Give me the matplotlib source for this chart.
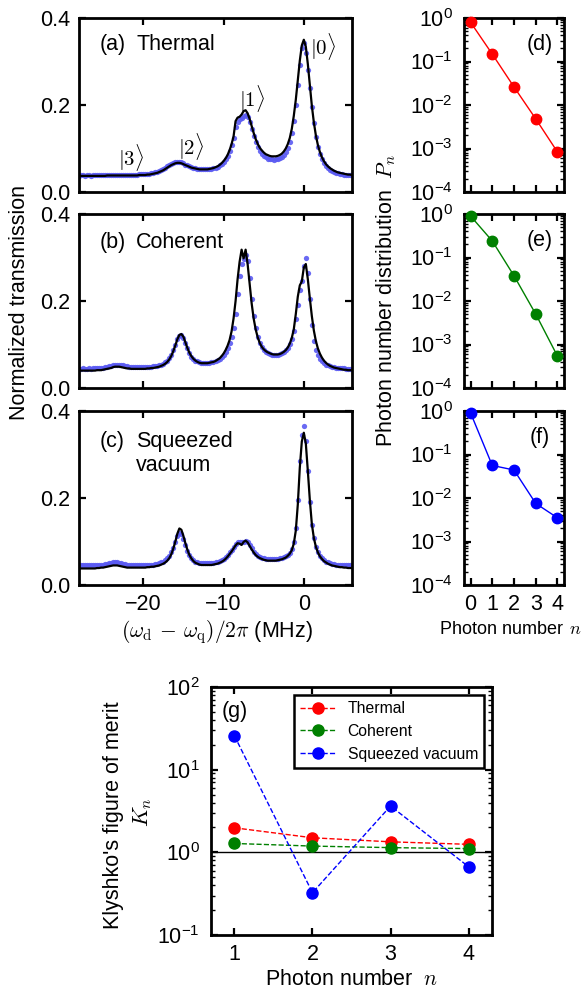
import numpy as np
import matplotlib
matplotlib.use('Agg')
import matplotlib.pyplot as plt
from matplotlib.ticker import LogLocator, NullFormatter

plt.rcParams['font.family'] = ['Liberation Sans', 'DejaVu Sans']
plt.rcParams['mathtext.fontset'] = 'cm'
plt.rcParams['axes.linewidth'] = 2.0
plt.rcParams['xtick.direction'] = 'in'
plt.rcParams['ytick.direction'] = 'in'
plt.rcParams['xtick.top'] = True
plt.rcParams['ytick.right'] = True
plt.rcParams['xtick.major.width'] = 1.6
plt.rcParams['ytick.major.width'] = 1.6
plt.rcParams['xtick.minor.width'] = 1.0
plt.rcParams['ytick.minor.width'] = 1.0
plt.rcParams['xtick.major.size'] = 5
plt.rcParams['ytick.major.size'] = 5
plt.rcParams['xtick.minor.size'] = 2.8
plt.rcParams['ytick.minor.size'] = 2.8
plt.rcParams['xtick.labelsize'] = 15.5
plt.rcParams['ytick.labelsize'] = 15.5
plt.rcParams['xtick.major.pad'] = 6.5
plt.rcParams['ytick.major.pad'] = 6.5

# ---------------- data ----------------
# drive detuning grid (MHz), 0.25 MHz steps from -28 to 6
detuning = np.linspace(-28, 6, 137)

thermal_fit = [
    0.037, 0.037, 0.037, 0.037,  # -28
    0.037, 0.037, 0.037, 0.037,  # -27
    0.037, 0.037, 0.037, 0.037,  # -26
    0.037, 0.037, 0.038, 0.038,  # -25
    0.038, 0.038, 0.038, 0.038,  # -24
    0.038, 0.038, 0.038, 0.038,  # -23
    0.038, 0.038, 0.038, 0.038,  # -22
    0.038, 0.038, 0.039, 0.039,  # -21
    0.039, 0.039, 0.040, 0.040,  # -20
    0.041, 0.042, 0.043, 0.044,  # -19
    0.046, 0.048, 0.050, 0.053,  # -18
    0.056, 0.059, 0.062, 0.064,  # -17
    0.066, 0.067, 0.067, 0.066,  # -16
    0.064, 0.062, 0.060, 0.058,  # -15
    0.056, 0.055, 0.054, 0.053,  # -14
    0.052, 0.052, 0.052, 0.052,  # -13
    0.052, 0.053, 0.054, 0.055,  # -12
    0.057, 0.059, 0.062, 0.066,  # -11
    0.071, 0.077, 0.085, 0.096,  # -10
    0.110, 0.128, 0.163, 0.171,  # -9
    0.173, 0.178, 0.186, 0.188,  # -8
    0.181, 0.168, 0.152, 0.136,  # -7
    0.122, 0.111, 0.102, 0.096,  # -6
    0.091, 0.087, 0.085, 0.083,  # -5
    0.082, 0.082, 0.082, 0.083,  # -4
    0.085, 0.088, 0.093, 0.100,  # -3
    0.110, 0.124, 0.145, 0.175,  # -2
    0.212, 0.256, 0.302, 0.337,  # -1
    0.350, 0.334, 0.294, 0.245,  # 0
    0.198, 0.160, 0.130, 0.108,  # 1
    0.092, 0.080, 0.071, 0.064,  # 2
    0.059, 0.055, 0.052, 0.049,  # 3
    0.047, 0.045, 0.044, 0.043,  # 4
    0.042, 0.041, 0.040, 0.040,  # 5
    0.039,                       # 6
]
thermal_data = [
    0.037, 0.038, 0.038, 0.037,
    0.038, 0.038, 0.037, 0.038,
    0.038, 0.038, 0.039, 0.038,
    0.038, 0.039, 0.039, 0.038,
    0.039, 0.039, 0.040, 0.039,
    0.039, 0.040, 0.040, 0.040,
    0.040, 0.040, 0.040, 0.040,
    0.040, 0.040, 0.041, 0.041,
    0.041, 0.041, 0.042, 0.042,
    0.043, 0.044, 0.045, 0.047,
    0.048, 0.050, 0.053, 0.056,
    0.059, 0.062, 0.065, 0.067,
    0.068, 0.069, 0.069, 0.068,
    0.066, 0.063, 0.061, 0.059,
    0.057, 0.056, 0.055, 0.054,
    0.053, 0.053, 0.052, 0.052,
    0.052, 0.053, 0.054, 0.055,
    0.056, 0.058, 0.061, 0.064,
    0.069, 0.075, 0.083, 0.094,
    0.108, 0.125, 0.150, 0.162,
    0.168, 0.171, 0.175, 0.177,
    0.173, 0.160, 0.144, 0.128,
    0.114, 0.103, 0.094, 0.088,
    0.083, 0.080, 0.077, 0.076,
    0.075, 0.074, 0.075, 0.076,
    0.078, 0.081, 0.086, 0.093,
    0.102, 0.116, 0.136, 0.164,
    0.200, 0.245, 0.292, 0.330,
    0.342, 0.320, 0.280, 0.240,
    0.196, 0.158, 0.127, 0.104,
    0.088, 0.076, 0.067, 0.060,
    0.055, 0.051, 0.048, 0.046,
    0.044, 0.043, 0.042, 0.041,
    0.040, 0.040, 0.039, 0.039,
    0.039,
]
coherent_fit = [
    0.040, 0.040, 0.040, 0.040,  # -28
    0.040, 0.040, 0.040, 0.040,  # -27
    0.040, 0.041, 0.041, 0.041,  # -26
    0.042, 0.043, 0.044, 0.045,  # -25
    0.046, 0.048, 0.049, 0.049,  # -24
    0.049, 0.048, 0.047, 0.046,  # -23
    0.045, 0.045, 0.044, 0.044,  # -22
    0.044, 0.044, 0.044, 0.044,  # -21
    0.044, 0.044, 0.045, 0.045,  # -20
    0.046, 0.046, 0.047, 0.048,  # -19
    0.049, 0.051, 0.053, 0.056,  # -18
    0.060, 0.066, 0.074, 0.085,  # -17
    0.098, 0.112, 0.122, 0.124,  # -16
    0.118, 0.105, 0.092, 0.081,  # -15
    0.073, 0.067, 0.063, 0.060,  # -14
    0.058, 0.057, 0.057, 0.057,  # -13
    0.057, 0.058, 0.059, 0.060,  # -12
    0.062, 0.065, 0.068, 0.073,  # -11
    0.079, 0.087, 0.097, 0.110,  # -10
    0.130, 0.160, 0.200, 0.250,  # -9
    0.290, 0.318, 0.298, 0.318,  # -8
    0.285, 0.240, 0.195, 0.160,  # -7
    0.135, 0.117, 0.104, 0.095,  # -6
    0.089, 0.085, 0.082, 0.080,  # -5
    0.078, 0.077, 0.077, 0.077,  # -4
    0.078, 0.080, 0.083, 0.087,  # -3
    0.093, 0.102, 0.115, 0.135,  # -2
    0.170, 0.210, 0.236, 0.245,  # -1
    0.277, 0.285, 0.250, 0.206,  # 0
    0.165, 0.132, 0.108, 0.091,  # 1
    0.079, 0.070, 0.063, 0.058,  # 2
    0.054, 0.051, 0.049, 0.047,  # 3
    0.046, 0.045, 0.044, 0.043,  # 4
    0.042, 0.042, 0.041, 0.041,  # 5
    0.041,                       # 6
]
coherent_data = [
    0.044, 0.044, 0.045, 0.044,
    0.044, 0.045, 0.044, 0.045,
    0.045, 0.045, 0.046, 0.046,
    0.047, 0.048, 0.049, 0.050,
    0.051, 0.052, 0.053, 0.054,
    0.054, 0.053, 0.052, 0.051,
    0.050, 0.049, 0.049, 0.048,
    0.048, 0.048, 0.049, 0.048,
    0.048, 0.048, 0.049, 0.049,
    0.049, 0.050, 0.050, 0.051,
    0.052, 0.054, 0.056, 0.059,
    0.063, 0.069, 0.077, 0.088,
    0.100, 0.112, 0.120, 0.121,
    0.116, 0.104, 0.091, 0.080,
    0.072, 0.067, 0.063, 0.061,
    0.059, 0.058, 0.057, 0.057,
    0.057, 0.058, 0.059, 0.060,
    0.062, 0.064, 0.067, 0.071,
    0.076, 0.083, 0.092, 0.103,
    0.117, 0.138, 0.170, 0.215,
    0.258, 0.284, 0.296, 0.305,
    0.292, 0.252, 0.205, 0.166,
    0.138, 0.118, 0.104, 0.094,
    0.088, 0.083, 0.080, 0.078,
    0.077, 0.076, 0.076, 0.077,
    0.078, 0.080, 0.083, 0.087,
    0.093, 0.101, 0.113, 0.131,
    0.158, 0.190, 0.225, 0.245,
    0.280, 0.298, 0.265, 0.205,
    0.145, 0.108, 0.087, 0.075,
    0.067, 0.061, 0.057, 0.054,
    0.052, 0.050, 0.049, 0.048,
    0.047, 0.046, 0.046, 0.045,
    0.045, 0.044, 0.044, 0.044,
    0.044,
]
squeezed_fit = [
    0.038, 0.038, 0.038, 0.038,  # -28
    0.038, 0.038, 0.038, 0.038,  # -27
    0.038, 0.039, 0.039, 0.040,  # -26
    0.040, 0.041, 0.042, 0.043,  # -25
    0.044, 0.045, 0.045, 0.045,  # -24
    0.044, 0.043, 0.042, 0.041,  # -23
    0.040, 0.040, 0.040, 0.040,  # -22
    0.040, 0.040, 0.040, 0.040,  # -21
    0.040, 0.040, 0.041, 0.041,  # -20
    0.042, 0.042, 0.043, 0.044,  # -19
    0.045, 0.047, 0.049, 0.052,  # -18
    0.056, 0.062, 0.071, 0.084,  # -17
    0.100, 0.118, 0.130, 0.127,  # -16
    0.113, 0.096, 0.081, 0.069,  # -15
    0.061, 0.055, 0.051, 0.049,  # -14
    0.047, 0.046, 0.046, 0.046,  # -13
    0.046, 0.046, 0.046, 0.047,  # -12
    0.048, 0.049, 0.051, 0.053,  # -11
    0.056, 0.060, 0.065, 0.071,  # -10
    0.077, 0.084, 0.091, 0.096,  # -9
    0.095, 0.092, 0.099, 0.102,  # -8
    0.098, 0.090, 0.082, 0.075,  # -7
    0.069, 0.065, 0.062, 0.060,  # -6
    0.058, 0.057, 0.056, 0.056,  # -5
    0.056, 0.056, 0.056, 0.057,  # -4
    0.058, 0.059, 0.061, 0.063,  # -3
    0.067, 0.072, 0.080, 0.095,  # -2
    0.125, 0.185, 0.270, 0.330,  # -1
    0.350, 0.325, 0.262, 0.195,  # 0
    0.140, 0.108, 0.088, 0.075,  # 1
    0.066, 0.060, 0.055, 0.052,  # 2
    0.049, 0.047, 0.045, 0.044,  # 3
    0.043, 0.042, 0.041, 0.041,  # 4
    0.040, 0.040, 0.039, 0.039,  # 5
    0.039,                       # 6
]
squeezed_data = [
    0.046, 0.045, 0.046, 0.046,
    0.045, 0.046, 0.046, 0.045,
    0.046, 0.046, 0.047, 0.047,
    0.047, 0.048, 0.049, 0.050,
    0.051, 0.052, 0.052, 0.052,
    0.051, 0.050, 0.049, 0.048,
    0.047, 0.047, 0.046, 0.046,
    0.046, 0.046, 0.046, 0.046,
    0.046, 0.046, 0.046, 0.047,
    0.047, 0.047, 0.048, 0.049,
    0.050, 0.052, 0.054, 0.057,
    0.061, 0.067, 0.075, 0.086,
    0.100, 0.113, 0.119, 0.117,
    0.106, 0.092, 0.079, 0.069,
    0.062, 0.057, 0.054, 0.052,
    0.051, 0.050, 0.050, 0.050,
    0.050, 0.050, 0.050, 0.051,
    0.052, 0.053, 0.055, 0.057,
    0.060, 0.064, 0.069, 0.075,
    0.081, 0.088, 0.094, 0.098,
    0.099, 0.098, 0.099, 0.101,
    0.098, 0.091, 0.084, 0.077,
    0.071, 0.067, 0.064, 0.062,
    0.061, 0.060, 0.059, 0.059,
    0.059, 0.059, 0.059, 0.060,
    0.061, 0.062, 0.064, 0.066,
    0.069, 0.074, 0.082, 0.098,
    0.130, 0.195, 0.285, 0.345,
    0.365, 0.330, 0.262, 0.190,
    0.138, 0.108, 0.088, 0.076,
    0.067, 0.061, 0.057, 0.054,
    0.052, 0.050, 0.049, 0.048,
    0.047, 0.047, 0.046, 0.046,
    0.046, 0.046, 0.045, 0.046,
    0.046,
]

photon_n = [0, 1, 2, 3, 4]
P_thermal = [0.80, 0.148, 0.026, 0.0048, 0.00083]
P_coherent = [0.90, 0.24, 0.038, 0.0050, 0.00054]
P_squeezed = [0.91, 0.056, 0.044, 0.0075, 0.0035]

klyshko_n = [1, 2, 3, 4]
K_thermal = [1.98, 1.50, 1.34, 1.25]
K_coherent = [1.28, 1.19, 1.14, 1.11]
K_squeezed = [25.7, 0.325, 3.63, 0.67]

# ---------------- layout ----------------
W, H = 588, 990
fig = plt.figure(figsize=(W / 100, H / 100), dpi=100)

def pos(l, t, r, b):
    return [l / W, 1 - b / H, (r - l) / W, (b - t) / H]

fs = 15.5
dot_color = '#5a5af2'
spectra = [
    (thermal_data, thermal_fit, (79, 18, 352, 192)),
    (coherent_data, coherent_fit, (79, 214, 352, 388)),
    (squeezed_data, squeezed_fit, (79, 411, 352, 585)),
]
left_axes = []
for i, (dat, fit, box) in enumerate(spectra):
    ax = fig.add_axes(pos(*box))
    ax.plot(detuning, dat, 'o', ms=3.8, color=dot_color, mec='none', alpha=0.9, zorder=2)
    ax.plot(detuning, fit, '-', color='black', lw=1.6, zorder=3)
    ax.set_xlim(-28, 6)
    ax.set_ylim(0, 0.4)
    ax.set_yticks([0, 0.2, 0.4])
    ax.set_yticklabels(['0.0', '0.2', '0.4'])
    ax.set_xticks([-20, -10, 0])
    if i < 2:
        ax.set_xticklabels([])
    left_axes.append(ax)

axa, axb, axc = left_axes
axa.text(0.077, 0.845, '(a)', transform=axa.transAxes, fontsize=fs, va='center')
axa.text(0.209, 0.845, 'Thermal', transform=axa.transAxes, fontsize=fs, va='center')
axb.text(0.077, 0.839, '(b)', transform=axb.transAxes, fontsize=fs, va='center')
axb.text(0.209, 0.839, 'Coherent', transform=axb.transAxes, fontsize=fs, va='center')
axc.text(0.077, 0.822, '(c)', transform=axc.transAxes, fontsize=fs, va='center')
axc.text(0.209, 0.822, 'Squeezed', transform=axc.transAxes, fontsize=fs, va='center')
axc.text(0.209, 0.684, 'vacuum', transform=axc.transAxes, fontsize=fs, va='center')

kets = [(2.4, 0.335, r'$|0\rangle$'), (-6.5, 0.215, r'$|1\rangle$'),
        (-14.0, 0.104, r'$|2\rangle$'), (-21.5, 0.079, r'$|3\rangle$')]
for kx, ky, kt in kets:
    axa.text(kx, ky, kt, fontsize=15, ha='center', va='center')

fig.text(20 / W, 1 - 302 / H, 'Normalized transmission', rotation=90,
         ha='center', va='center', fontsize=fs)
fig.text(217 / W, 1 - 632 / H, r'$(\omega_{\rm d}\,-\,\omega_{\rm q})/2\pi$ (MHz)',
         ha='center', va='center', fontsize=fs)

# right panels
dists = [
    (P_thermal, 'red', '(d)', (464, 18, 564, 192)),
    (P_coherent, 'green', '(e)', (464, 214, 564, 388)),
    (P_squeezed, 'blue', '(f)', (464, 411, 564, 585)),
]
for i, (P, col, lab, box) in enumerate(dists):
    ax = fig.add_axes(pos(*box))
    ax.plot(photon_n, P, '-o', color=col, lw=1.0, ms=7.5, clip_on=False, zorder=3)
    ax.set_yscale('log')
    ax.set_ylim(1e-4, 1)
    ax.set_xlim(-0.3, 4.3)
    ax.set_xticks(photon_n)
    ax.yaxis.set_major_locator(LogLocator(base=10, numticks=10))
    ax.yaxis.set_minor_locator(LogLocator(base=10, subs=np.arange(2, 10), numticks=20))
    ax.yaxis.set_minor_formatter(NullFormatter())
    ax.tick_params(axis='y', which='major', pad=8)
    if i < 2:
        ax.set_xticklabels([])
    ax.text(0.76, 0.845, lab, transform=ax.transAxes, fontsize=fs, ha='center', va='center')

fig.text(386 / W, 1 - 300 / H, r'Photon number distribution  $P_n$', rotation=90,
         ha='center', va='center', fontsize=fs)
fig.text(511 / W, 1 - 630 / H, r'Photon number $\,n$', ha='center', va='center', fontsize=13)

# Klyshko panel
axg = fig.add_axes(pos(211, 687, 492, 935))
axg.axhline(1.0, color='black', lw=1.0, zorder=1)
axg.plot(klyshko_n, K_thermal, '--o', color='red', lw=1.0, ms=8, label='Thermal', zorder=3)
axg.plot(klyshko_n, K_coherent, '--o', color='green', lw=1.0, ms=8, label='Coherent', zorder=3)
axg.plot(klyshko_n, K_squeezed, '--o', color='blue', lw=1.0, ms=8, label='Squeezed vacuum', zorder=3)
axg.set_yscale('log')
axg.set_ylim(0.1, 100)
axg.set_xlim(0.7, 4.3)
axg.set_xticks(klyshko_n)
axg.yaxis.set_minor_locator(LogLocator(base=10, subs=np.arange(2, 10), numticks=20))
axg.yaxis.set_minor_formatter(NullFormatter())
axg.tick_params(axis='y', which='major', pad=8)
axg.text(1.0, 0.90, '(g)', transform=axg.get_xaxis_transform(), fontsize=fs, ha='center', va='center')
leg = axg.legend(loc='upper right', fontsize=11.3, fancybox=False, framealpha=1,
                 edgecolor='black', handlelength=2.2, borderaxespad=0.5)
leg.get_frame().set_linewidth(1.8)
axg.set_xlabel(r'Photon number  $n$', fontsize=fs, labelpad=3)
fig.text(113 / W, 1 - 815 / H, "Klyshko's figure of merit", rotation=90,
         ha='center', va='center', fontsize=fs)
fig.text(143 / W, 1 - 812 / H, r'$K_n$', rotation=90, ha='center', va='center', fontsize=16)

fig.savefig('out.png', dpi=100)
